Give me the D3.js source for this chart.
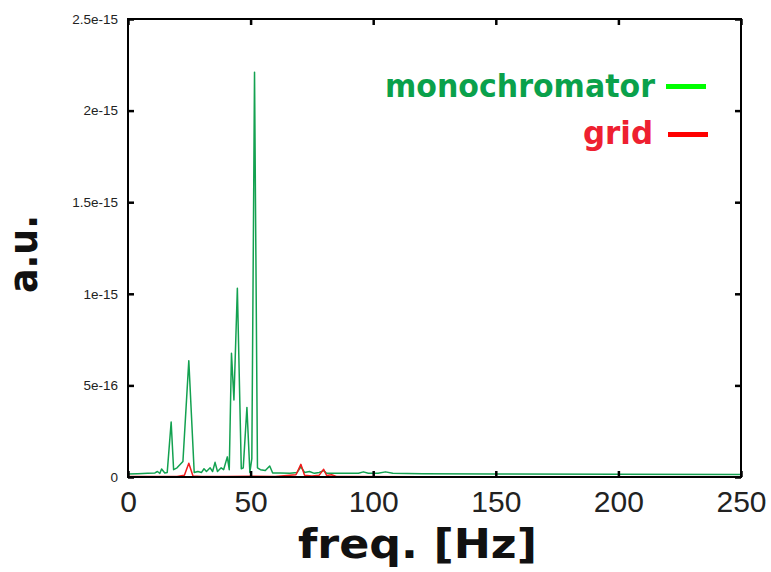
<!DOCTYPE html>
<html><head><meta charset="utf-8">
<script src="https://cdn.jsdelivr.net/npm/d3@7"></script>
<style>html,body{margin:0;padding:0;background:#fff;}</style>
</head><body>
<svg id="chart" width="771" height="572"></svg>
<script>
// Frequencies (Hz) and amplitudes in units of 1e-16 a.u.
const monoFreq = [0,4,8,11,12,13,13.7,15,16,17.6,18.6,20,22.4,24.8,27,28.5,30,31,32,33.5,34.5,35.5,36.5,38,39,40.5,41.3,42.2,43.2,44.6,46.2,47,48.5,49.7,50.5,51.6,52.8,54,56,57.8,59,62,66,69,70.5,72,74,76,78,79.8,81,84,90,94,96,98,102,105,108,120,150,200,250];
const monoVal  = [0.16,0.18,0.2,0.22,0.3,0.2,0.44,0.22,0.25,3.0,0.4,0.5,0.85,6.35,0.25,0.3,0.25,0.45,0.3,0.5,0.3,0.8,0.3,0.5,0.4,1.1,0.4,6.75,4.2,10.3,0.45,0.5,3.8,0.25,1.0,22.1,0.5,0.4,0.35,0.6,0.22,0.22,0.2,0.25,0.56,0.25,0.3,0.2,0.25,0.35,0.2,0.2,0.2,0.2,0.28,0.2,0.2,0.28,0.2,0.18,0.17,0.15,0.13];
const gridFreq = [0,10,20,23,24.8,26.5,30,40,50,60,68.5,70.5,72,75,78,79.8,81,83,85,90,120,250];
const gridVal  = [0.03,0.03,0.03,0.1,0.75,0.05,0.03,0.03,0.04,0.03,0.12,0.69,0.1,0.05,0.1,0.42,0.08,0.12,0.03,0.03,0.02,0.02];
const xTicks = [0,50,100,150,200,250];
const yTicks = [0,5,10,15,20,25];
const yTickLabels = ["0","5e-16","1e-15","1.5e-15","2e-15","2.5e-15"];
const seriesNames = ["monochromator","grid"];

const svg = d3.select("#chart");
const L = 128, R = 741, T = 19, B = 477;
const x = d3.scaleLinear().domain([0,250]).range([L,R]);
const y = d3.scaleLinear().domain([0,25]).range([B,T]);

const line = d3.line().x(d => x(d[0])).y(d => y(d[1]));
const gridData = gridFreq.map((f,i)=>[f,gridVal[i]]);
const monoData = monoFreq.map((f,i)=>[f,monoVal[i]]);

svg.append("path").datum(monoData).attr("d",line)
  .attr("fill","none").attr("stroke","#13a150").attr("stroke-width",1.5).attr("stroke-linejoin","round");
svg.append("path").datum(gridData).attr("d",line)
  .attr("fill","none").attr("stroke","#f01c1c").attr("stroke-width",1.5).attr("stroke-linejoin","round");

// frame
svg.append("rect").attr("x",L).attr("y",T).attr("width",R-L).attr("height",B-T)
  .attr("fill","none").attr("stroke","#000").attr("stroke-width",2);

// axes with inward ticks
const tickFont = "'Liberation Sans', Arial, sans-serif";
const xb = svg.append("g").attr("transform",`translate(0,${B})`)
  .call(d3.axisBottom(x).tickValues(xTicks).tickSize(-6).tickPadding(14).tickFormat(d3.format("d")));
xb.select(".domain").remove();
xb.selectAll("line").attr("stroke","#000").attr("stroke-width",2.5);
xb.selectAll("text").attr("font-family",tickFont).attr("font-size",30).attr("fill","#222");

const xt = svg.append("g").attr("transform",`translate(0,${T})`)
  .call(d3.axisTop(x).tickValues(xTicks).tickSize(-6).tickFormat(""));
xt.select(".domain").remove();
xt.selectAll("line").attr("stroke","#000").attr("stroke-width",2.5);

const yl = svg.append("g").attr("transform",`translate(${L},0)`)
  .call(d3.axisLeft(y).tickValues(yTicks).tickSize(-6).tickPadding(10).tickFormat((d,i)=>yTickLabels[i]));
yl.select(".domain").remove();
yl.selectAll("line").attr("stroke","#000").attr("stroke-width",2.5);
yl.selectAll("text").attr("font-family",tickFont).attr("font-size",13.5).attr("fill","#222");

const yr = svg.append("g").attr("transform",`translate(${R},0)`)
  .call(d3.axisRight(y).tickValues(yTicks).tickSize(-6).tickFormat(""));
yr.select(".domain").remove();
yr.selectAll("line").attr("stroke","#000").attr("stroke-width",2.5);

// axis titles
const titleFont = "'DejaVu Sans', sans-serif";
svg.append("text").attr("x",298).attr("y",558).attr("font-family",titleFont)
  .attr("font-weight","bold").attr("font-size",40).attr("textLength",239)
  .attr("lengthAdjust","spacingAndGlyphs").attr("fill","#111").text("freq. [Hz]");
svg.append("text").attr("transform","translate(37,293) rotate(-90)").attr("font-family",titleFont)
  .attr("font-weight","bold").attr("font-size",40).attr("textLength",78)
  .attr("lengthAdjust","spacingAndGlyphs").attr("fill","#111").text("a.u.");

// legend
svg.append("text").attr("x",655).attr("y",97).attr("text-anchor","end").attr("font-family",titleFont)
  .attr("font-weight","bold").attr("font-size",32).attr("textLength",270)
  .attr("lengthAdjust","spacingAndGlyphs").attr("fill","#0aa14b").text(seriesNames[0]);
svg.append("line").attr("x1",666).attr("x2",706).attr("y1",86.5).attr("y2",86.5)
  .attr("stroke","#00ff00").attr("stroke-width",5);
svg.append("text").attr("x",653).attr("y",144).attr("text-anchor","end").attr("font-family",titleFont)
  .attr("font-weight","bold").attr("font-size",32).attr("textLength",70)
  .attr("lengthAdjust","spacingAndGlyphs").attr("fill","#ee2030").text(seriesNames[1]);
svg.append("line").attr("x1",668).attr("x2",708).attr("y1",134.5).attr("y2",134.5)
  .attr("stroke","#ff0000").attr("stroke-width",5);
</script>
</body></html>
